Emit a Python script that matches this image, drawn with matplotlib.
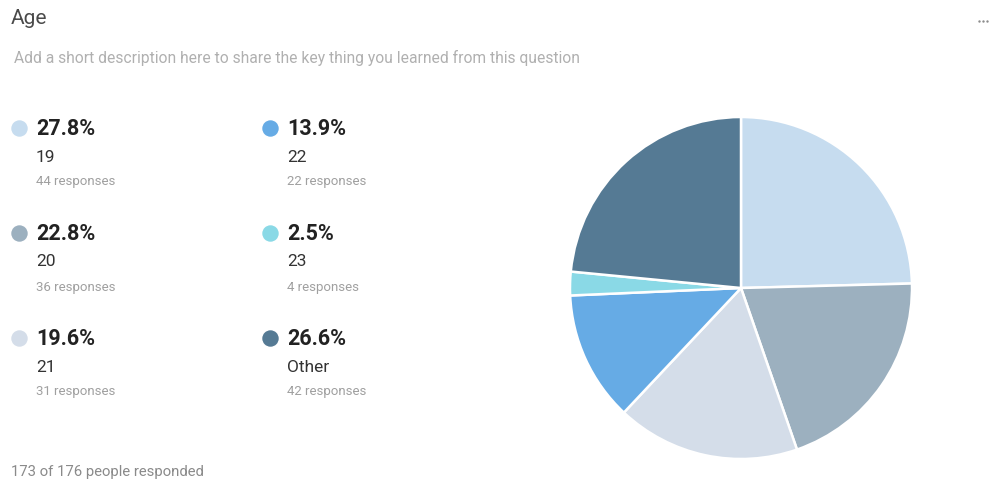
"""Age breakdown card: legend grid on the left, pie chart on the right."""
import matplotlib
matplotlib.use("Agg")
import matplotlib.pyplot as plt

plt.rcParams["font.family"] = ["Roboto", "DejaVu Sans"]

# survey data
labels = ["19", "20", "21", "22", "23", "Other"]
responses = [44, 36, 31, 22, 4, 42]
percents = ["27.8%", "22.8%", "19.6%", "13.9%", "2.5%", "26.6%"]
colors = ["#c6dcef", "#9cb0bf", "#d4dde9", "#66abe5", "#8ad9e6", "#557a94"]

title = "Age"
description = "Add a short description here to share the key thing you learned from this question"
footer = "173 of 176 people responded"

W, H = 990, 482
fig = plt.figure(figsize=(W / 100, H / 100), dpi=100)
fig.patch.set_facecolor("white")

# overlay axes in pixel units for the text layout
ov = fig.add_axes([0, 0, 1, 1])
ov.set_xlim(0, W)
ov.set_ylim(H, 0)
ov.axis("off")

ov.text(11, 19, title, fontsize=15, color="#4a4a4a", va="center", ha="left")
ov.text(14, 58, description, fontsize=11.25, color="#b0b0b0", va="center", ha="left")
ov.text(11, 472, footer, fontsize=10.7, color="#8a8a8a", va="center", ha="left")
for dx in (-4, 0, 4):
    ov.scatter([983 + dx], [21], s=3, color="#8c8c8c", linewidths=0)

# legend grid: first column rows 19/20/21, second column 22/23/Other
col_x = [19, 270]
row_y = [128, 233, 338]
for i, (lab, n, pct, c) in enumerate(zip(labels, responses, percents, colors)):
    cx = col_x[i // 3]
    cy = row_y[i % 3]
    ov.scatter([cx], [cy], s=140, color=c, linewidths=0, zorder=3)
    ov.text(cx + 17, cy + 1, pct, fontsize=15.5, fontweight="semibold",
            color="#222222", va="center", ha="left")
    ov.text(cx + 17, cy + 29, lab, fontsize=12.5, color="#333333",
            va="center", ha="left")
    ov.text(cx + 17, cy + 54, f"{n} responses", fontsize=9.5, color="#a0a0a0",
            va="center", ha="left")

# pie chart, clockwise from twelve o'clock
left, top, size = 570, 117, 342
pax = fig.add_axes([left / W, 1 - (top + size) / H, size / W, size / H])
pax.pie(responses, colors=colors, startangle=90, counterclock=False,
        wedgeprops=dict(edgecolor="white", linewidth=1.8))
pax.set_xlim(-1.0, 1.0)
pax.set_ylim(-1.0, 1.0)
pax.set_aspect("equal")
pax.axis("off")

fig.savefig("out.png", dpi=100, facecolor="white")
